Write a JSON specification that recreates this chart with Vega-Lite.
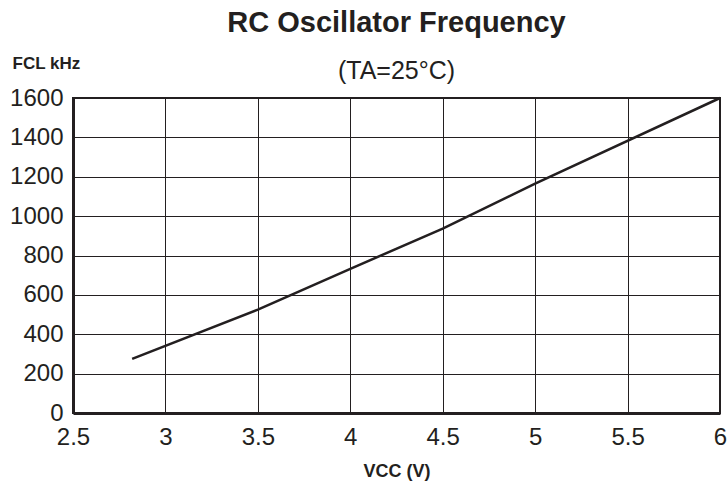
{
  "$schema": "https://vega.github.io/schema/vega-lite/v6.json",
  "width": 647,
  "height": 315,
  "autosize": "none",
  "padding": {"left": 73, "top": 98, "right": 7, "bottom": 79},
  "background": "white",
  "title": {
    "text": "RC Oscillator Frequency",
    "subtitle": "(TA=25°C)",
    "anchor": "middle",
    "font": "Liberation Sans",
    "fontSize": 29,
    "fontWeight": "bold",
    "color": "#231f20",
    "subtitleFont": "Liberation Sans",
    "subtitleFontSize": 25,
    "subtitleColor": "#231f20",
    "subtitlePadding": 21,
    "offset": -30
  },
  "data": {
    "values": [
      {"vcc": 2.82, "fcl": 275},
      {"vcc": 3.5, "fcl": 525},
      {"vcc": 4.0, "fcl": 732},
      {"vcc": 4.5, "fcl": 937},
      {"vcc": 5.0, "fcl": 1165},
      {"vcc": 6.0, "fcl": 1600}
    ]
  },
  "mark": {"type": "line", "color": "#231f20", "strokeWidth": 2.5},
  "encoding": {
    "x": {
      "field": "vcc",
      "type": "quantitative",
      "scale": {"domain": [2.5, 6], "nice": false, "zero": false},
      "axis": {
        "values": [2.5, 3, 3.5, 4, 4.5, 5, 5.5, 6],
        "format": "~g",
        "title": "VCC (V)",
        "titleFont": "Liberation Sans",
        "titleFontSize": 18,
        "titleFontWeight": "bold",
        "titleColor": "#231f20",
        "titlePadding": 13,
        "labelFont": "Liberation Sans",
        "labelFontSize": 24,
        "labelColor": "#231f20",
        "labelPadding": 12,
        "labelFlush": false,
        "labelOverlap": false,
        "ticks": false,
        "domainColor": "#231f20",
        "domainWidth": 3,
        "grid": true,
        "gridColor": "#231f20",
        "gridWidth": 1,
        "gridOpacity": 1
      }
    },
    "y": {
      "field": "fcl",
      "type": "quantitative",
      "scale": {"domain": [0, 1600], "nice": false},
      "axis": {
        "values": [0, 200, 400, 600, 800, 1000, 1200, 1400, 1600],
        "format": "d",
        "title": "FCL kHz",
        "titleAngle": 0,
        "titleX": -61,
        "titleY": -30,
        "titleAlign": "left",
        "titleBaseline": "alphabetic",
        "titleFont": "Liberation Sans",
        "titleFontSize": 17,
        "titleFontWeight": "bold",
        "titleColor": "#231f20",
        "labelFont": "Liberation Sans",
        "labelFontSize": 24,
        "labelColor": "#231f20",
        "labelPadding": 10,
        "labelFlush": false,
        "labelOverlap": false,
        "ticks": false,
        "domainColor": "#231f20",
        "domainWidth": 3,
        "grid": true,
        "gridColor": "#231f20",
        "gridWidth": 1,
        "gridOpacity": 1
      }
    }
  },
  "config": {
    "view": {"stroke": "#231f20", "strokeWidth": 2}
  }
}
